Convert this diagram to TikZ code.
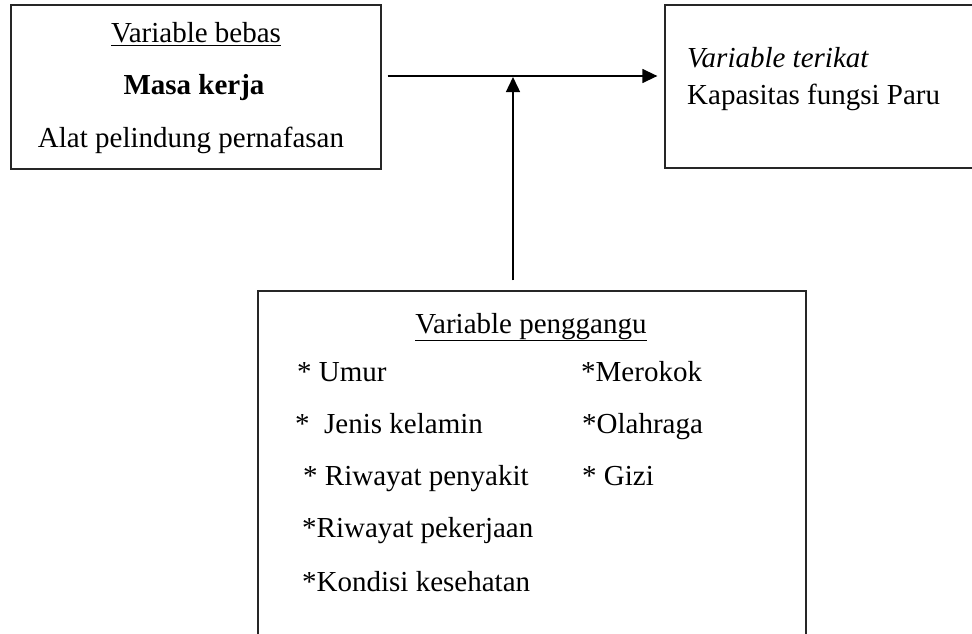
\documentclass[tikz,border=0pt]{standalone}
\usepackage{fontspec}
\setmainfont{Liberation Serif}
\usepackage{tikz}
\usetikzlibrary{arrows.meta}

\begin{document}
\begin{tikzpicture}[
x=1pt, y=-1pt,
% Style for the frames
box style/.style={
draw=black!85,
line width=1.3pt,
inner sep=0pt
},
% Style for the texts
text style/.style={
inner sep=0pt,
font=\fontsize{29}{35}\selectfont
},
% Style for the arrows
arrow style/.style={
line width=1.4pt,
-{Triangle[length=15pt,width=14pt]}
}
]

\useasboundingbox (0,0) rectangle (972,634);
\clip (0,0) rectangle (972,634);

% The three frames (right and bottom ones run past the page)
\node[box style, minimum width=370pt, minimum height=164pt] (bebas) at (196,87) {};
\node[box style, minimum width=330pt, minimum height=163pt] (terikat) at (830,86.5) {};
\node[box style, minimum width=548pt, minimum height=380pt] (penggangu) at (532,481) {};

% Independent variable
\node[text style, anchor=base] (tBebas) at (196,43) {\underline{Variable bebas}};
\node[text style, anchor=base] (tMasa) at (194,95) {\bfseries Masa kerja};
\node[text style, anchor=base] (tAlat) at (191,147) {Alat pelindung pernafasan};

% Dependent variable
\node[text style, anchor=base west] (tTerikat) at (687,67) {\itshape Variable terikat};
\node[text style, anchor=base west] (tParu) at (687,104) {Kapasitas fungsi Paru};

% Confounding variables
\node[text style, anchor=base] (tPenggangu) at (531,333) {\underline{Variable penggangu}};
\foreach \x/\y/\txt [count=\i] in {297/381/{* Umur}, 295/433/{*~~Jenis kelamin}, 303/485/{* Riwayat penyakit}, 302/537/{*Riwayat pekerjaan}, 302/591/{*Kondisi kesehatan}} {
\node[text style, anchor=base west] (left\i) at (\x,\y) {\txt};
}
\foreach \x/\y/\txt [count=\i] in {581/381/{*Merokok}, 582/433/{*Olahraga}, 582/485/{* Gizi}} {
\node[text style, anchor=base west] (right\i) at (\x,\y) {\txt};
}

% Arrows
\coordinate (merge) at (513,76);
\draw[arrow style, shorten <=6pt, shorten >=7pt] (bebas.east |- merge) -- (terikat.west |- merge);
\draw[arrow style, shorten <=10pt] (penggangu.north -| merge) -- ([yshift=-1pt]merge);

\end{tikzpicture}
\end{document}
